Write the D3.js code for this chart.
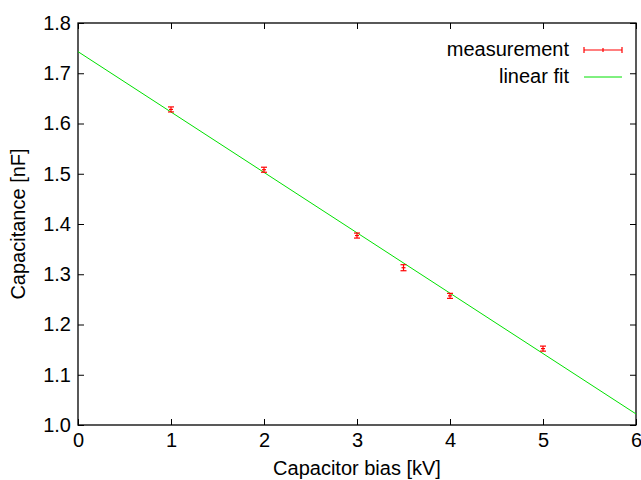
<!DOCTYPE html>
<html>
<head>
<meta charset="utf-8">
<script src="https://cdn.jsdelivr.net/npm/d3@7"></script>
<style>
	body { margin: 0; background: #fff; }
	svg { display: block; }
	text { font-family: "Liberation Sans", Arial, sans-serif; font-size: 20px; fill: #000; }
</style>
</head>
<body>
<div id="chart"></div>
<script>
// measurement data
var biasKV = [1, 2, 3, 3.5, 4, 5];
var capNF = [1.628, 1.508, 1.377, 1.313, 1.257, 1.152];
var capErr = [0.005, 0.005, 0.005, 0.006, 0.005, 0.005];

// linear fit end points
var fitX = [0, 6];
var fitY = [1.743, 1.022];

var xTicks = [0, 1, 2, 3, 4, 5, 6];
var yTicks = [1.0, 1.1, 1.2, 1.3, 1.4, 1.5, 1.6, 1.7, 1.8];

var legendNames = ['measurement', 'linear fit'];

const width = 641;
const height = 480;
const margin = {top: 23, right: 5, bottom: 55, left: 78};
const tickLen = 6;
const fontSize = '20px';
const red = '#ff0000';
const green = '#00e000';

const svg = d3.select('#chart')
	.append('svg')
	.attr('width', width)
	.attr('height', height);

const x = d3.scaleLinear()
	.domain([0, 6])
	.range([margin.left, width - margin.right]);

const y = d3.scaleLinear()
	.domain([1.0, 1.8])
	.range([height - margin.bottom, margin.top]);

// ticks on all four sides, pointing inward (gnuplot style)
svg.append('g')
	.attr('transform', `translate(0, ${height - margin.bottom})`)
	.call(d3.axisBottom(x).tickValues(xTicks).tickSizeInner(-tickLen).tickSizeOuter(0).tickPadding(8).tickFormat(d3.format('d')))
	.call(g => g.select('.domain').remove())
	.call(g => g.selectAll('text').style('font-size', fontSize).attr('font-family', null));

svg.append('g')
	.attr('transform', `translate(0, ${margin.top})`)
	.call(d3.axisTop(x).tickValues(xTicks).tickSizeInner(-tickLen).tickSizeOuter(0).tickFormat(''))
	.call(g => g.select('.domain').remove());

svg.append('g')
	.attr('transform', `translate(${margin.left}, 0)`)
	.call(d3.axisLeft(y).tickValues(yTicks).tickSizeInner(-tickLen).tickSizeOuter(0).tickPadding(7).tickFormat(d3.format('.1f')))
	.call(g => g.select('.domain').remove())
	.call(g => g.selectAll('text').style('font-size', fontSize).attr('font-family', null));

svg.append('g')
	.attr('transform', `translate(${width - margin.right}, 0)`)
	.call(d3.axisRight(y).tickValues(yTicks).tickSizeInner(-tickLen).tickSizeOuter(0).tickFormat(''))
	.call(g => g.select('.domain').remove());

// border
svg.append('rect')
	.attr('x', x(0))
	.attr('y', y(1.8))
	.attr('width', x(6) - x(0))
	.attr('height', y(1.0) - y(1.8))
	.attr('fill', 'none')
	.attr('stroke', '#000')
	.attr('stroke-width', 1.3);

// fit line
const line = d3.line()
	.x(d => x(d[0]))
	.y(d => y(d[1]));

svg.append('path')
	.datum(d3.zip(fitX, fitY))
	.attr('d', line)
	.attr('fill', 'none')
	.attr('stroke', green)
	.attr('stroke-width', 1);

// error bars
const capW = 3;
const bars = svg.append('g')
	.attr('class', 'bars')
	.attr('stroke', red)
	.attr('stroke-width', 1.2);

biasKV.forEach((b, i) => {
	const cx = x(b);
	const lo = y(capNF[i] - capErr[i]);
	const hi = y(capNF[i] + capErr[i]);
	const cy = y(capNF[i]);
	bars.append('line').attr('x1', cx).attr('x2', cx).attr('y1', lo).attr('y2', hi);
	bars.append('line').attr('x1', cx - capW).attr('x2', cx + capW).attr('y1', lo).attr('y2', lo);
	bars.append('line').attr('x1', cx - capW).attr('x2', cx + capW).attr('y1', hi).attr('y2', hi);
	bars.append('line').attr('x1', cx - 2).attr('x2', cx + 2).attr('y1', cy).attr('y2', cy);
});

// axis labels
svg.append('text')
	.attr('x', (x(0) + x(6)) / 2)
	.attr('y', 475)
	.attr('text-anchor', 'middle')
	.text('Capacitor bias [kV]');

svg.append('text')
	.attr('transform', `translate(25, ${(y(1.0) + y(1.8)) / 2}) rotate(-90)`)
	.attr('text-anchor', 'middle')
	.text('Capacitance [nF]');

// legend
const legend = svg.append('g');
const legY = [50, 77];
const sx1 = 584, sx2 = 622;

legend.selectAll('text')
	.data(legendNames)
	.enter()
	.append('text')
	.attr('x', 569)
	.attr('y', (d, i) => legY[i])
	.attr('dy', '0.32em')
	.attr('text-anchor', 'end')
	.text(d => d);

const ls = legend.append('g').attr('stroke', red).attr('stroke-width', 1.2);
ls.append('line').attr('x1', sx1).attr('x2', sx2).attr('y1', legY[0]).attr('y2', legY[0]);
ls.append('line').attr('x1', sx1).attr('x2', sx1).attr('y1', legY[0] - 3).attr('y2', legY[0] + 3);
ls.append('line').attr('x1', sx2).attr('x2', sx2).attr('y1', legY[0] - 3).attr('y2', legY[0] + 3);
ls.append('line').attr('x1', (sx1 + sx2) / 2).attr('x2', (sx1 + sx2) / 2).attr('y1', legY[0] - 2).attr('y2', legY[0] + 2);

legend.append('line')
	.attr('x1', sx1).attr('x2', sx2)
	.attr('y1', legY[1]).attr('y2', legY[1])
	.attr('stroke', green)
	.attr('stroke-width', 1);
</script>
</body>
</html>
